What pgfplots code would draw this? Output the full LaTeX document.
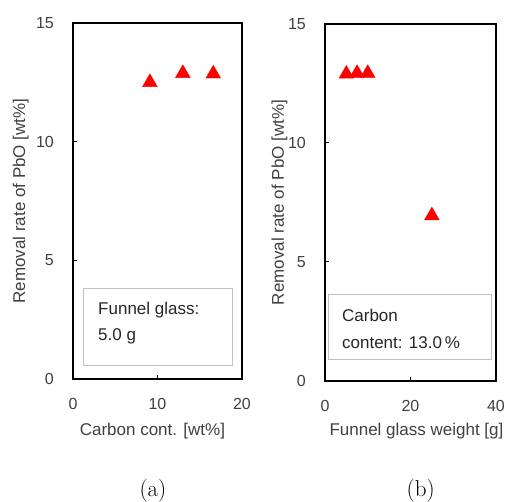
\documentclass[border=0pt]{standalone}
\usepackage{fontspec}
\newfontfamily\lsans{Liberation Sans}
\usepackage{pgfplots}
\pgfplotsset{compat=1.18}
\definecolor{txt}{HTML}{404040}
\definecolor{boxc}{HTML}{BFBFBF}
\definecolor{btxt}{HTML}{262626}
\pgfplotsset{myax/.style={
  scale only axis, clip=false,
  axis line style={black, line width=1.6bp},
  tick align=inside, major tick length=4bp,
  xtick pos=bottom, ytick pos=left,
  tick style={black, line width=1bp},
  ymin=0, ymax=15, ytick={0,5,10,15},
  /pgf/number format/assume math mode=true,
  ticklabel style={font=\lsans\fontsize{16bp}{19bp}\selectfont, text=txt},
  xticklabel style={inner sep=0pt, anchor=north, yshift=-19bp},
  yticklabel style={inner sep=0pt, anchor=east, xshift=-19bp},
  label style={font=\lsans\fontsize{17bp}{20bp}\selectfont, text=txt},
}}
\begin{document}
\begin{tikzpicture}
\useasboundingbox (0,0) rectangle (507bp,502bp);
\begin{axis}[myax, at={(73bp,123bp)}, anchor=south west, width=169bp, height=356bp,
  xmin=0, xmax=20, xtick={0,10,20},
  xlabel={Carbon cont. [wt\%]}, ylabel={Removal rate of PbO [wt\%]},
  xlabel style={at={(axis description cs:0.47,-0.159)}, anchor=base},
  ylabel style={at={(axis description cs:-0.284,0.5)}, anchor=base}]
\addplot[only marks, mark=triangle*, mark size=8.5bp, color=red] coordinates {(9.1,12.5) (13.0,12.88) (16.6,12.86)};
\draw[boxc, line width=1bp] (rel axis cs:0.065,0.039) rectangle (rel axis cs:0.941,0.253);
\node[anchor=base west, inner sep=0pt, font=\lsans\fontsize{17bp}{20bp}\selectfont, text=btxt] at (rel axis cs:0.148,0.180) {Funnel glass:};
\node[anchor=base west, inner sep=0pt, font=\lsans\fontsize{17bp}{20bp}\selectfont, text=btxt] at (rel axis cs:0.148,0.107) {5.0 g};
\node[anchor=base, inner sep=0pt, font=\fontsize{23bp}{27bp}\selectfont] at (rel axis cs:0.473,-0.330) {(a)};
\end{axis}
\begin{axis}[myax, at={(325bp,121bp)}, anchor=south west, width=171bp, height=357bp,
  xmin=0, xmax=40, xtick={0,20,40},
  xlabel={Funnel glass weight [g]}, ylabel={Removal rate of PbO [wt\%]},
  xlabel style={at={(axis description cs:0.535,-0.153)}, anchor=base},
  ylabel style={at={(axis description cs:-0.240,0.5)}, anchor=base}]
\addplot[only marks, mark=triangle*, mark size=8.5bp, color=red] coordinates {(5,12.9) (7.5,12.93) (10,12.93) (25,6.95)};
\draw[boxc, line width=1bp] (rel axis cs:0.018,0.059) rectangle (rel axis cs:0.971,0.241);
\node[anchor=base west, inner sep=0pt, font=\lsans\fontsize{17bp}{20bp}\selectfont, text=btxt] at (rel axis cs:0.099,0.168) {Carbon};
\node[anchor=base west, inner sep=0pt, font=\lsans\fontsize{17bp}{20bp}\selectfont, text=btxt] at (rel axis cs:0.099,0.092) {content: 13.0\,\%};
\node[anchor=base, inner sep=0pt, font=\fontsize{23bp}{27bp}\selectfont] at (rel axis cs:0.560,-0.3235) {(b)};
\end{axis}
\end{tikzpicture}
\end{document}
